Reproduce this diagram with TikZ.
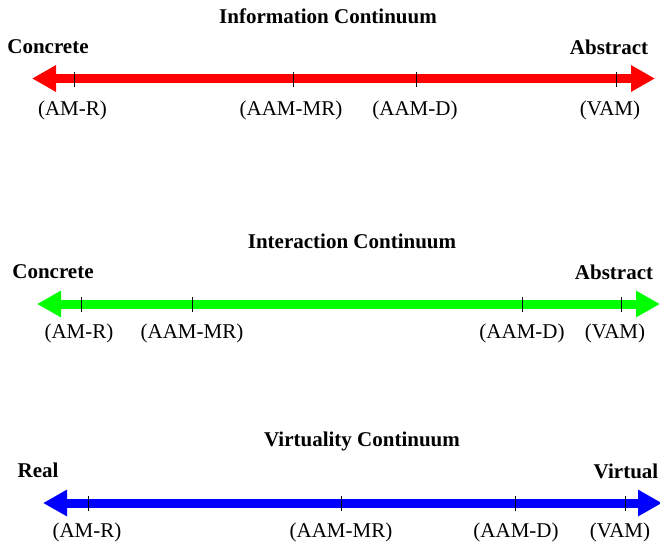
\documentclass[tikz,border=0pt]{standalone}
\usepackage{fontspec}
\setmainfont{Liberation Serif}
\usepackage{xcolor}
\usepackage{tikz}
\usetikzlibrary{arrows.meta}
\tikzset{
    txt/.style = {align=center, inner sep=0pt, font=\fontsize{21}{24}\selectfont},
    title/.style = {txt, font=\bfseries\fontsize{21}{24}\selectfont},
    pole/.style = {txt, font=\bfseries\fontsize{21}{24}\selectfont},
    axis/.style = {line width=9pt, {Triangle[length=24pt,width=25pt]}-{Triangle[length=24pt,width=25pt]}},
    tickmark/.style = {draw=black, line width=1pt}
}

\begin{document}
\begin{tikzpicture}[x=1pt,y=-1pt]
    \useasboundingbox (0,0) rectangle (660,547);
    % information continuum
    \node [title] (it) at (328,16) {Information Continuum};
    \node [pole] (ic) at (48,47) {Concrete};
    \node [pole] (ia) at (609,47.5) {Abstract};
    \coordinate (il) at (32,78.5);
    \coordinate (ir) at (655,78.5);
    \draw [axis, red] (il) -- (ir);
    \coordinate (i1) at (74,78.5);
    \coordinate (i2) at (293,78.5);
    \coordinate (i3) at (416,78.5);
    \coordinate (i4) at (616,78.5);
    \foreach \t in {i1,i2,i3,i4}
        \draw [tickmark] ([yshift=7pt]\t) -- ([yshift=-8pt]\t);
    \node [txt] (i1l) at (72.5,110) {(AM-R)};
    \node [txt] (i2l) at (291,110) {(AAM-MR)};
    \node [txt] (i3l) at (415,110) {(AAM-D)};
    \node [txt] (i4l) at (610,110) {(VAM)};
    % interaction continuum
    \node [title] (nt) at (352,241) {Interaction Continuum};
    \node [pole] (nc) at (53,272) {Concrete};
    \node [pole] (na) at (614,272) {Abstract};
    \coordinate (nl) at (37,304);
    \coordinate (nr) at (660,304);
    \draw [axis, green] (nl) -- (nr);
    \coordinate (n1) at (81,304);
    \coordinate (n2) at (192,304);
    \coordinate (n3) at (522,304);
    \coordinate (n4) at (621,304);
    \foreach \t in {n1,n2,n3,n4}
        \draw [tickmark] ([yshift=7pt]\t) -- ([yshift=-8pt]\t);
    \node [txt] (n1l) at (79,333) {(AM-R)};
    \node [txt] (n2l) at (192,333) {(AAM-MR)};
    \node [txt] (n3l) at (522,333) {(AAM-D)};
    \node [txt] (n4l) at (615,333) {(VAM)};
    % virtuality continuum
    \node [title] (vt) at (362,441) {Virtuality Continuum};
    \node [pole] (vc) at (38,470) {Real};
    \node [pole] (va) at (626,471) {Virtual};
    \coordinate (vl) at (43,503);
    \coordinate (vr) at (662,503);
    \draw [axis, blue] (vl) -- (vr);
    \coordinate (v1) at (88,503);
    \coordinate (v2) at (341,503);
    \coordinate (v3) at (515,503);
    \coordinate (v4) at (625,503);
    \foreach \t in {v1,v2,v3,v4}
        \draw [tickmark] ([yshift=7pt]\t) -- ([yshift=-8pt]\t);
    \node [txt] (v1l) at (87,532) {(AM-R)};
    \node [txt] (v2l) at (341,532) {(AAM-MR)};
    \node [txt] (v3l) at (516,532) {(AAM-D)};
    \node [txt] (v4l) at (620,532) {(VAM)};
\end{tikzpicture}
\end{document}
